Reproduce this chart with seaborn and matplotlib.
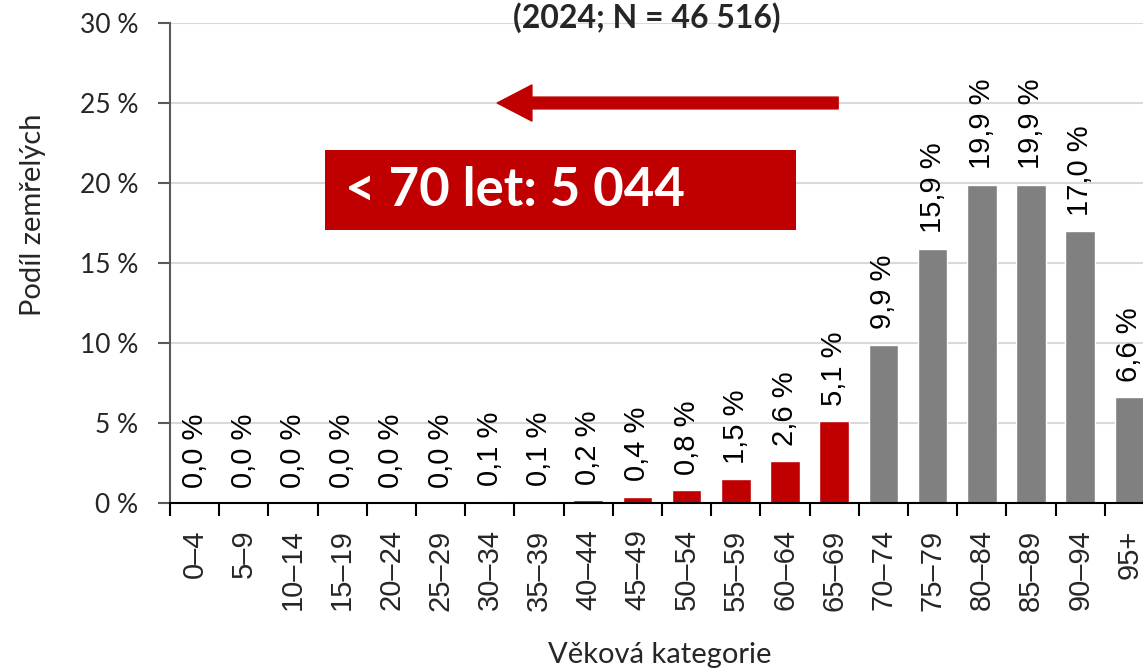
import matplotlib
matplotlib.use("Agg")
import matplotlib.pyplot as plt
import seaborn as sns
import pandas as pd
from matplotlib.patches import Rectangle

categories = ["0–4", "5–9", "10–14", "15–19", "20–24", "25–29", "30–34", "35–39",
              "40–44", "45–49", "50–54", "55–59", "60–64", "65–69", "70–74", "75–79",
              "80–84", "85–89", "90–94", "95+"]
values = [0.0, 0.0, 0.0, 0.0, 0.0, 0.0, 0.1, 0.1, 0.2, 0.4, 0.8, 1.5, 2.6, 5.1,
          9.9, 15.9, 19.9, 19.9, 17.0, 6.6]
labels = ["0,0 %", "0,0 %", "0,0 %", "0,0 %", "0,0 %", "0,0 %", "0,1 %", "0,1 %",
          "0,2 %", "0,4 %", "0,8 %", "1,5 %", "2,6 %", "5,1 %", "9,9 %", "15,9 %",
          "19,9 %", "19,9 %", "17,0 %", "6,6 %"]
yticks = [0, 5, 10, 15, 20, 25, 30]
ytick_labels = ["0 %", "5 %", "10 %", "15 %", "20 %", "25 %", "30 %"]
title = "(2024; N = 46 516)"
box_text = "< 70 let: 5 044"

RED = "#C00000"
GRAY = "#808080"
colors = [RED if i < 14 else GRAY for i in range(len(categories))]

sns.set_theme(style="white")
plt.rcParams["font.family"] = ["Lato", "DejaVu Sans"]

df = pd.DataFrame({"cat": categories, "val": values})

fig = plt.figure(figsize=(11.43, 6.69), dpi=100)
ax = fig.add_axes([170 / 1143, (669 - 503) / 669, 984 / 1143, 480 / 669])

sns.barplot(data=df, x="cat", y="val", hue="cat", palette=colors, legend=False,
            width=0.6, ax=ax, saturation=1, zorder=3)

ax.set_xlim(-0.5, len(categories) - 0.5)
ax.set_ylim(0, 30)
ax.set_yticks(yticks)
ax.set_yticklabels(ytick_labels, fontsize=19, family="Lato")
ax.yaxis.grid(True, color="#D9D9D9", linewidth=1.5, zorder=0)
ax.xaxis.grid(False)

# x ticks: marks at category boundaries, labels at centres
ax.set_xticks([i - 0.5 for i in range(len(categories) + 1)])
ax.set_xticklabels([])
ax.set_xticks(range(len(categories)), minor=True)
ax.set_xticklabels(categories, minor=True)
ax.tick_params(axis="x", which="major", length=9, width=1.5, color="black", direction="out", bottom=True)
ax.tick_params(axis="x", which="minor", length=0, pad=19)
for lab in ax.get_xticklabels(minor=True):
    lab.set_rotation(90)
    lab.set_rotation_mode("anchor")
    lab.set_ha("right")
    lab.set_va("center")
    lab.set_fontsize(21)
    lab.set_family("Liberation Sans")
ax.tick_params(axis="y", which="major", length=9, width=1.5, color="#595959", direction="out", left=True, pad=14)

for s in ["top", "right"]:
    ax.spines[s].set_visible(False)
ax.spines["left"].set_color("#595959")
ax.spines["left"].set_linewidth(1.5)
ax.spines["bottom"].set_color("black")
ax.spines["bottom"].set_linewidth(1.5)
ax.spines["bottom"].set_zorder(4)

for i, (v, t) in enumerate(zip(values, labels)):
    ax.annotate(t, (i, v), xytext=(0, 11), textcoords="offset points",
                rotation=90, ha="center", va="bottom", fontsize=21,
                family="Liberation Sans", color="black", zorder=5)

ax.set_xlabel("")
ax.set_ylabel("")
fig.text(660 / 1143, 1 - 655 / 669, "Věková kategorie", ha="center", va="center", fontsize=21)
fig.text(33 / 1143, 1 - 215 / 669, "Podíl zemřelých", ha="center", va="center",
         rotation=90, fontsize=21)
fig.text(647 / 1143, 1 - 2 / 669, title, ha="center", va="top", fontsize=23,
         fontweight="bold")

# arrow pointing left at 25 %
ax.annotate("", xy=(6.15, 25), xytext=(13.08, 25),
            arrowprops=dict(facecolor=RED, edgecolor=RED, width=8.5, headwidth=26,
                            headlength=25, shrink=0), zorder=6)

# red box
ax.add_patch(Rectangle((2.65, 17.06), 12.22 - 2.65, 22.06 - 17.06, facecolor=RED,
                       edgecolor="none", zorder=6))
ax.text(3.06, 19.56, box_text, color="white", fontsize=38, fontweight="bold",
        ha="left", va="center", zorder=7)

fig.savefig("out.png", dpi=100)
